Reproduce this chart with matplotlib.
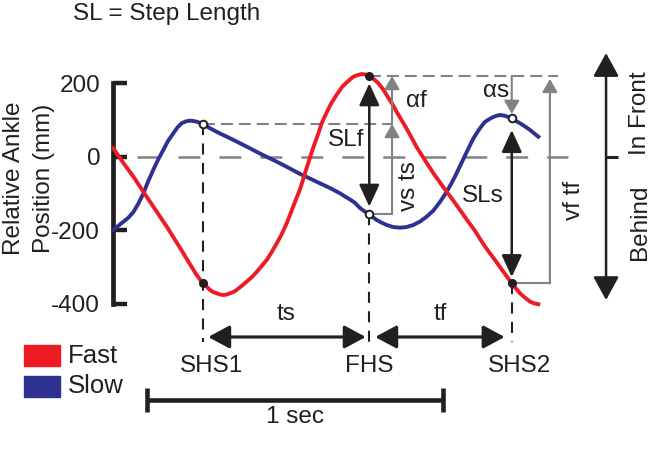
import matplotlib
matplotlib.use("Agg")
import matplotlib.pyplot as plt
from matplotlib.patches import FancyArrowPatch, Rectangle

plt.rcParams["font.family"] = ["Liberation Sans", "DejaVu Sans"]
plt.rcParams["lines.scale_dashes"] = False
plt.rcParams["axes.unicode_minus"] = False

# ankle position relative to body (time in s, position in mm)
t_fast = [0.001, 0.034, 0.069, 0.125, 0.182, 0.227, 0.260, 0.283, 0.294, 0.305,
          0.317, 0.328, 0.339, 0.351, 0.362, 0.373, 0.385, 0.396, 0.407, 0.418,
          0.435, 0.452, 0.469, 0.486, 0.503, 0.520, 0.537, 0.554, 0.571, 0.588,
          0.609, 0.633, 0.655, 0.678, 0.694, 0.707, 0.722, 0.737, 0.756, 0.775,
          0.792, 0.812, 0.825, 0.841, 0.854, 0.867, 0.882, 0.898, 0.914, 0.931,
          0.946, 0.960, 0.988, 1.008, 1.027, 1.055, 1.084, 1.117, 1.146, 1.174,
          1.199, 1.225, 1.243, 1.262, 1.286, 1.309, 1.330, 1.349, 1.363, 1.377,
          1.394, 1.411, 1.424, 1.439]
fast = [22.9, -15.8, -54.4, -122.4, -190.5, -248.4, -292.0, -321.9, -334.1, -344.5,
        -353.7, -362.7, -368.2, -371.7, -375.0, -376.3, -375.0, -371.7, -368.2, -362.7,
        -351.8, -340.1, -328.2, -313.7, -297.4, -281.1, -259.3, -235.6, -210.3, -180.4,
        -136.9, -87.9, -30.7, 26.4, 61.8, 93.1, 118.9, 143.4, 167.9, 189.7,
        203.3, 216.9, 221.5, 225.0, 223.7, 219.6, 211.4, 199.7, 182.9, 161.1,
        142.0, 121.6, 83.5, 55.0, 26.4, -9.0, -45.2, -82.4, -113.7, -145.0,
        -173.6, -202.2, -225.3, -248.4, -274.3, -300.1, -323.3, -344.5, -358.6, -371.7,
        -383.9, -394.5, -398.9, -401.6]

t_slow = [0.001, 0.017, 0.034, 0.051, 0.069, 0.085, 0.103, 0.118, 0.136, 0.152,
          0.170, 0.186, 0.204, 0.218, 0.232, 0.247, 0.260, 0.272, 0.283, 0.293,
          0.305, 0.321, 0.339, 0.362, 0.385, 0.430, 0.463, 0.507, 0.554, 0.592,
          0.633, 0.666, 0.700, 0.734, 0.768, 0.785, 0.802, 0.819, 0.836, 0.849,
          0.867, 0.878, 0.892, 0.909, 0.926, 0.947, 0.971, 0.994, 1.016, 1.039,
          1.061, 1.084, 1.106, 1.123, 1.140, 1.157, 1.174, 1.191, 1.208, 1.221,
          1.235, 1.247, 1.258, 1.272, 1.286, 1.297, 1.309, 1.326, 1.349, 1.360,
          1.377, 1.394, 1.411, 1.424, 1.439]
slow = [-199.4, -188.6, -177.7, -166.8, -150.5, -128.7, -99.6, -68.8, -36.2, -9.0,
        18.2, 42.7, 63.7, 79.5, 90.9, 96.3, 98.0, 97.1, 95.2, 92.5,
        89.0, 80.8, 72.7, 63.1, 54.4, 36.5, 22.9, 4.6, -13.6, -29.4,
        -47.1, -59.3, -72.4, -85.2, -99.6, -108.3, -116.5, -126.0, -140.0, -147.8,
        -155.9, -164.1, -172.2, -179.6, -185.8, -191.3, -193.2, -191.3, -185.8, -176.3,
        -163.3, -146.4, -123.3, -102.9, -79.7, -53.9, -25.3, 3.3, 31.8, 52.2,
        69.9, 83.5, 94.4, 101.8, 108.0, 111.3, 113.5, 111.3, 104.5, 98.5,
        90.9, 82.2, 72.7, 63.9, 54.4]

# heel strikes
event_names = ["SHS1", "FHS", "SHS2"]
event_t = [0.305, 0.867, 1.349]
fast_at_event = [-344.5, 219.6, -344.5]
slow_at_event = [89.0, -155.9, 104.5]

y_ticks = [-400, -200, 0, 200]

RED = "#ed1c24"
BLUE = "#2e3192"
GRAY = "#808285"
INK = "#231f20"
FS = 17.5

fig = plt.figure(figsize=(6.55, 4.68), dpi=100)
ax = fig.add_axes([0, 0, 1, 1])
ax.set_xlim(-0.3823, 1.8336)
ax.set_ylim(-847.1, 426.4)

for side in ["top", "right", "bottom"]:
    ax.spines[side].set_visible(False)
ax.spines["left"].set_position(("data", -0.001))
ax.spines["left"].set_bounds(-400, 200)
ax.spines["left"].set_linewidth(3.4)
ax.spines["left"].set_color(INK)
ax.set_xticks([])
ax.set_yticks(y_ticks)
ax.tick_params(axis="y", direction="in", length=10, width=3.2, color=INK,
               labelsize=FS, labelcolor=INK, pad=9)


def arrow(x0, y0, x1, y1, style="-|>", color=INK, lw=1.8, hl=13.0, hw=6.0):
    ax.add_patch(FancyArrowPatch((x0, y0), (x1, y1),
                                 arrowstyle=f"{style},head_length={hl},head_width={hw}",
                                 mutation_scale=1, color=color, lw=lw,
                                 shrinkA=0, shrinkB=0, zorder=4, clip_on=False))


# reference dashed lines
ax.plot([0.081, 1.539], [0, 0], color=GRAY, lw=1.8, dashes=(15.8, 13.7), zorder=1)
ax.plot([event_t[0], 0.944], [slow_at_event[0]] * 2, color=GRAY, lw=1.5,
        dashes=(8.6, 4.3), zorder=1)
ax.plot([event_t[1], 1.505], [fast_at_event[1]] * 2, color=GRAY, lw=1.5,
        dashes=(8.6, 4.3), zorder=1)
dash_start = [slow_at_event[0], slow_at_event[1], fast_at_event[2]]
for t, y0 in zip(event_t, dash_start):
    ax.plot([t, t], [y0, -505], color=INK, lw=1.5, dashes=(8, 6), zorder=1)

# trajectories
ax.plot(t_slow, slow, color=BLUE, lw=2.8, solid_joinstyle="round", zorder=3)
ax.plot(t_fast, fast, color=RED, lw=2.8, solid_joinstyle="round", zorder=3)

# step length arrows
arrow(event_t[1], fast_at_event[1] - 20, event_t[1], slow_at_event[1] + 20,
      style="<|-|>", hl=13.5, hw=6.2)
arrow(event_t[2], slow_at_event[2] - 32, event_t[2], fast_at_event[2] + 17,
      style="<|-|>", hl=13.5, hw=6.2)

# gray velocity / alpha arrows
x_vs = 0.944
ax.plot([event_t[1], x_vs], [slow_at_event[1]] * 2, color=GRAY, lw=1.5, zorder=2)
arrow(x_vs, slow_at_event[1], x_vs, slow_at_event[0], color=GRAY, lw=1.5, hl=8, hw=4.6)
arrow(x_vs, slow_at_event[0], x_vs, fast_at_event[1], color=GRAY, lw=1.5, hl=8, hw=4.6)
arrow(event_t[2], fast_at_event[1], event_t[2], slow_at_event[2] + 12,
      color=GRAY, lw=1.5, hl=8, hw=4.6)
x_vf = 1.478
ax.plot([event_t[2], x_vf], [fast_at_event[2]] * 2, color=GRAY, lw=1.5, zorder=2)
arrow(x_vf, fast_at_event[2], x_vf, fast_at_event[1] - 8, color=GRAY, lw=1.5, hl=8, hw=4.6)

# event markers
ax.plot(event_t, fast_at_event, "o", ms=5.5, mfc=INK, mec=INK, zorder=5)
ax.plot(event_t, slow_at_event, "o", ms=5.5, mfc="white", mec=INK, mew=1.4, zorder=5)

# step times
y_time = -490.6
arrow(event_t[0] + 0.017, y_time, event_t[1] - 0.012, y_time, style="<|-|>",
      lw=2.3, hl=13, hw=7)
arrow(event_t[1] + 0.02, y_time, event_t[2] - 0.024, y_time, style="<|-|>",
      lw=2.3, hl=13, hw=7)
ax.text((event_t[0] + event_t[1]) / 2, -428, "ts", fontsize=FS, color=INK,
        ha="center", va="center")
ax.text((event_t[1] + event_t[2]) / 2, -428, "tf", fontsize=FS, color=INK,
        ha="center", va="center")
for name, t, dx in zip(event_names, event_t, [0.027, 0.0, 0.027]):
    ax.text(t + dx, -569, name, fontsize=FS, color=INK, ha="center", va="center")

# scale bar
ax.plot([0.115, 1.115], [-662, -662], color=INK, lw=3.3, solid_capstyle="butt")
for x in [0.115, 1.115]:
    ax.plot([x, x], [-662 - 33, -662 + 33], color=INK, lw=3.3, solid_capstyle="butt")
ax.text(0.615, -708, "1 sec", fontsize=FS, color=INK, ha="center", va="center")

# front / behind arrow
arrow(1.668, -390, 1.668, 282, style="<|-|>", lw=1.8, hl=14.4, hw=7.9)
ax.plot([1.668, 1.708], [0, 0], color=INK, lw=2.2, solid_capstyle="butt")
ax.text(1.783, 118.6, "In Front", fontsize=FS, color=INK, rotation=90,
        ha="center", va="center")
ax.text(1.783, -178, "Behind", fontsize=FS, color=INK, rotation=90,
        ha="center", va="center")

# labels on the annotations
ax.text(0.788, 45.4, "SLf", fontsize=FS, color=INK, ha="center", va="center")
ax.text(1.252, -107, "SLs", fontsize=FS, color=INK, ha="center", va="center")
ax.text(1.028, 151.6, "αf", fontsize=FS, color=INK, ha="center", va="center")
ax.text(1.296, 178.8, "αs", fontsize=FS, color=INK, ha="center", va="center")
ax.text(1.001, -79.7, "vs ts", fontsize=FS, color=INK, rotation=90,
        ha="center", va="center")
ax.text(1.560, -117.8, "vf tf", fontsize=FS, color=INK, rotation=90,
        ha="center", va="center")

# axis title and header
ax.text(-0.335, -58, "Relative Ankle", fontsize=FS, color=INK, rotation=90,
        ha="center", va="center")
ax.text(-0.233, -58, "Position (mm)", fontsize=FS, color=INK, rotation=90,
        ha="center", va="center")
ax.text(-0.135, 388, "SL = Step Length", fontsize=FS, color=INK, ha="left", va="center")

# legend
for y0, c, name in [(-570, RED, "Fast"), (-654, BLUE, "Slow")]:
    ax.add_patch(Rectangle((-0.301, y0), 0.122, 58, color=c, clip_on=False))
    ax.text(-0.152, y0 + 29, name, fontsize=18.5, color=INK, ha="left", va="center")

fig.savefig("out.png", dpi=100)
